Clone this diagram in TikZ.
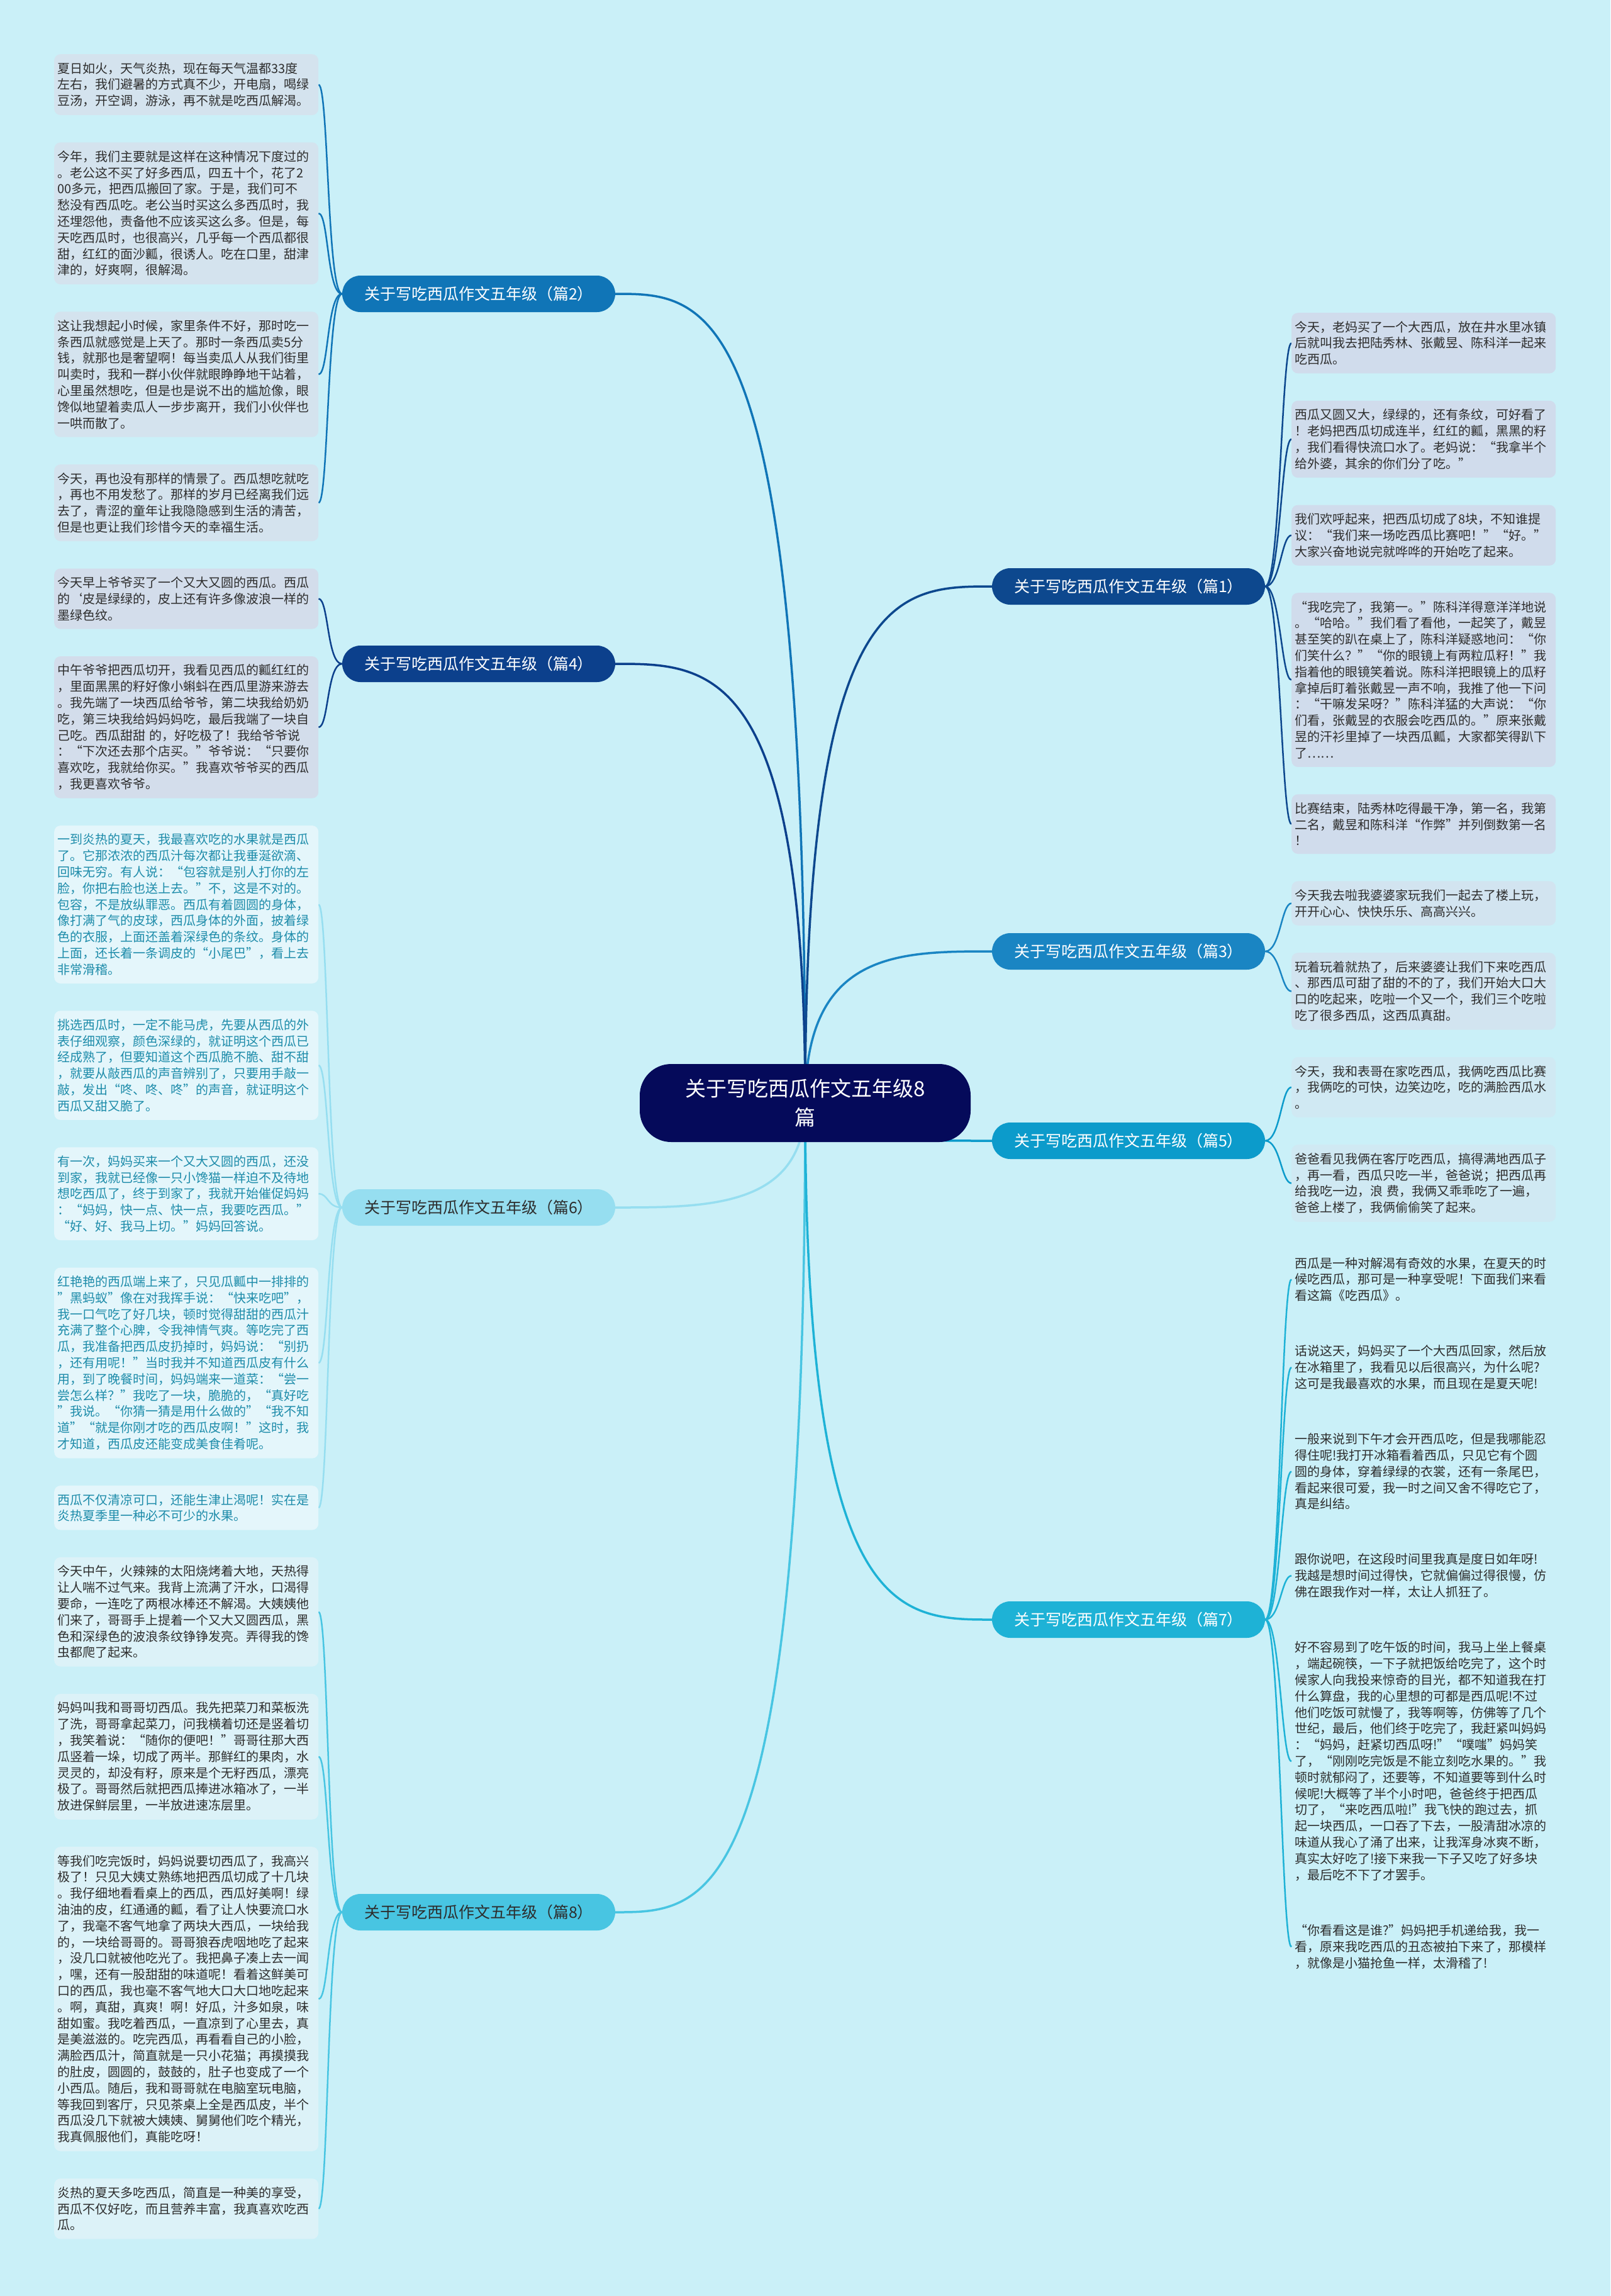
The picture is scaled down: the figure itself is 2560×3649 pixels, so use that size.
\documentclass[tikz,border=0pt]{standalone}
\usepackage{fontspec}
\setmainfont{Noto Sans CJK SC}
\usetikzlibrary{calc, positioning, backgrounds}

\definecolor{bgcol}{RGB}{202,240,248}
\definecolor{rootcol}{RGB}{5,10,90}
\definecolor{c1}{RGB}{13,72,142}
\definecolor{c2}{RGB}{16,117,183}
\definecolor{c3}{RGB}{26,133,195}
\definecolor{c4}{RGB}{12,64,140}
\definecolor{c5}{RGB}{12,155,203}
\definecolor{c6}{RGB}{150,222,240}
\definecolor{c7}{RGB}{30,178,214}
\definecolor{c8}{RGB}{72,197,226}
\definecolor{f1}{RGB}{208,220,236}
\definecolor{f2}{RGB}{212,227,238}
\definecolor{f3}{RGB}{210,228,240}
\definecolor{f4}{RGB}{211,221,235}
\definecolor{f5}{RGB}{208,233,243}
\definecolor{f6}{RGB}{228,246,251}
\definecolor{f8}{RGB}{220,242,248}
\definecolor{txtcol}{RGB}{45,45,45}
\definecolor{tealtxt}{RGB}{30,140,170}

\tikzset{
  rootnode/.style={fill=rootcol, text=white, rounded corners=50pt, minimum width=526pt,
    minimum height=124pt, align=center, font=\fontsize{33}{46}\selectfont},
  branch/.style={rounded corners=29pt, minimum width=434pt, minimum height=58pt,
    inner sep=0pt, text=white, font=\fontsize{25}{30}\selectfont},
  leaf/.style={rounded corners=10pt, text width=410pt, inner xsep=5pt, inner ysep=13pt,
    align=left, text=txtcol, font=\fontsize{20}{25.8}\selectfont},
  mainline/.style={line width=3.5pt},
  subline/.style={line width=2.5pt}
}

\begin{document}
\begin{tikzpicture}[x=1pt, y=-1pt]
% central topic
\node[rootnode] (root) at (1280,1753) {关于写吃西瓜作文五年级8\\篇};

% branches
\node[branch, fill=c2] (b2) at (761,467) {关于写吃西瓜作文五年级（篇2）};
\node[branch, fill=c4] (b4) at (761,1055) {关于写吃西瓜作文五年级（篇4）};
\node[branch, fill=c6, text=txtcol] (b6) at (761,1919) {关于写吃西瓜作文五年级（篇6）};
\node[branch, fill=c8, text=txtcol] (b8) at (761,3039) {关于写吃西瓜作文五年级（篇8）};
\node[branch, fill=c1] (b1) at (1794,932) {关于写吃西瓜作文五年级（篇1）};
\node[branch, fill=c3] (b3) at (1794,1512) {关于写吃西瓜作文五年级（篇3）};
\node[branch, fill=c5] (b5) at (1794,1813) {关于写吃西瓜作文五年级（篇5）};
\node[branch, fill=c7] (b7) at (1794,2574) {关于写吃西瓜作文五年级（篇7）};

% left column
\node[leaf, fill=f2, anchor=north west] (L2a) at (86,86) {夏日如火，天气炎热，现在每天气温都33度\\左右，我们避暑的方式真不少，开电扇，喝绿\\豆汤，开空调，游泳，再不就是吃西瓜解渴。};
\node[leaf, fill=f2, below=43pt of L2a] (L2b) {今年，我们主要就是这样在这种情况下度过的\\。老公这不买了好多西瓜，四五十个，花了2\\00多元，把西瓜搬回了家。于是，我们可不\\愁没有西瓜吃。老公当时买这么多西瓜时，我\\还埋怨他，责备他不应该买这么多。但是，每\\天吃西瓜时，也很高兴，几乎每一个西瓜都很\\甜，红红的面沙瓤，很诱人。吃在口里，甜津\\津的，好爽啊，很解渴。};
\node[leaf, fill=f2, below=43pt of L2b] (L2c) {这让我想起小时候，家里条件不好，那时吃一\\条西瓜就感觉是上天了。那时一条西瓜卖5分\\钱，就那也是奢望啊！每当卖瓜人从我们街里\\叫卖时，我和一群小伙伴就眼睁睁地干站着，\\心里虽然想吃，但是也是说不出的尴尬像，眼\\馋似地望着卖瓜人一步步离开，我们小伙伴也\\一哄而散了。};
\node[leaf, fill=f2, below=43pt of L2c] (L2d) {今天，再也没有那样的情景了。西瓜想吃就吃\\，再也不用发愁了。那样的岁月已经离我们远\\去了，青涩的童年让我隐隐感到生活的清苦，\\但是也更让我们珍惜今天的幸福生活。};
\node[leaf, fill=f4, below=43pt of L2d] (L4a) {今天早上爷爷买了一个又大又圆的西瓜。西瓜\\的\symbol{96}皮是绿绿的，皮上还有许多像波浪一样的\\墨绿色纹。};
\node[leaf, fill=f4, below=43pt of L4a] (L4b) {中午爷爷把西瓜切开，我看见西瓜的瓤红红的\\，里面黑黑的籽好像小蝌蚪在西瓜里游来游去\\。我先端了一块西瓜给爷爷，第二块我给奶奶\\吃，第三块我给妈妈妈吃，最后我端了一块自\\己吃。西瓜甜甜 的，好吃极了！我给爷爷说\\：“下次还去那个店买。”爷爷说：“只要你\\喜欢吃，我就给你买。”我喜欢爷爷买的西瓜\\，我更喜欢爷爷。};
\node[leaf, fill=f6, text=tealtxt, below=43pt of L4b] (L6a) {一到炎热的夏天，我最喜欢吃的水果就是西瓜\\了。它那浓浓的西瓜汁每次都让我垂涎欲滴、\\回味无穷。有人说：“包容就是别人打你的左\\脸，你把右脸也送上去。”不，这是不对的。\\包容，不是放纵罪恶。西瓜有着圆圆的身体，\\像打满了气的皮球，西瓜身体的外面，披着绿\\色的衣服，上面还盖着深绿色的条纹。身体的\\上面，还长着一条调皮的“小尾巴”，看上去\\非常滑稽。};
\node[leaf, fill=f6, text=tealtxt, below=43pt of L6a] (L6b) {挑选西瓜时，一定不能马虎，先要从西瓜的外\\表仔细观察，颜色深绿的，就证明这个西瓜已\\经成熟了，但要知道这个西瓜脆不脆、甜不甜\\，就要从敲西瓜的声音辨别了，只要用手敲一\\敲，发出“咚、咚、咚”的声音，就证明这个\\西瓜又甜又脆了。};
\node[leaf, fill=f6, text=tealtxt, below=43pt of L6b] (L6c) {有一次，妈妈买来一个又大又圆的西瓜，还没\\到家，我就已经像一只小馋猫一样迫不及待地\\想吃西瓜了，终于到家了，我就开始催促妈妈\\：“妈妈，快一点、快一点，我要吃西瓜。”\\“好、好、我马上切。”妈妈回答说。};
\node[leaf, fill=f6, text=tealtxt, below=43pt of L6c] (L6d) {红艳艳的西瓜端上来了，只见瓜瓤中一排排的\\”黑蚂蚁”像在对我挥手说：“快来吃吧”，\\我一口气吃了好几块，顿时觉得甜甜的西瓜汁\\充满了整个心脾，令我神情气爽。等吃完了西\\瓜，我准备把西瓜皮扔掉时，妈妈说：“别扔\\，还有用呢！”当时我并不知道西瓜皮有什么\\用，到了晚餐时间，妈妈端来一道菜：“尝一\\尝怎么样？”我吃了一块，脆脆的，“真好吃\\”我说。“你猜一猜是用什么做的”“我不知\\道”“就是你刚才吃的西瓜皮啊！”这时，我\\才知道，西瓜皮还能变成美食佳肴呢。};
\node[leaf, fill=f6, text=tealtxt, below=43pt of L6d] (L6e) {西瓜不仅清凉可口，还能生津止渴呢！实在是\\炎热夏季里一种必不可少的水果。};
\node[leaf, fill=f8, below=43pt of L6e] (L8a) {今天中午，火辣辣的太阳烧烤着大地，天热得\\让人喘不过气来。我背上流满了汗水，口渴得\\要命，一连吃了两根冰棒还不解渴。大姨姨他\\们来了，哥哥手上提着一个又大又圆西瓜，黑\\色和深绿色的波浪条纹铮铮发亮。弄得我的馋\\虫都爬了起来。};
\node[leaf, fill=f8, below=43pt of L8a] (L8b) {妈妈叫我和哥哥切西瓜。我先把菜刀和菜板洗\\了洗，哥哥拿起菜刀，问我横着切还是竖着切\\，我笑着说：“随你的便吧！”哥哥往那大西\\瓜竖着一垛，切成了两半。那鲜红的果肉，水\\灵灵的，却没有籽，原来是个无籽西瓜，漂亮\\极了。哥哥然后就把西瓜捧进冰箱冰了，一半\\放进保鲜层里，一半放进速冻层里。};
\node[leaf, fill=f8, below=43pt of L8b] (L8c) {等我们吃完饭时，妈妈说要切西瓜了，我高兴\\极了！只见大姨丈熟练地把西瓜切成了十几块\\。我仔细地看看桌上的西瓜，西瓜好美啊！绿\\油油的皮，红通通的瓤，看了让人快要流口水\\了，我毫不客气地拿了两块大西瓜，一块给我\\的，一块给哥哥的。哥哥狼吞虎咽地吃了起来\\，没几口就被他吃光了。我把鼻子凑上去一闻\\，嘿，还有一股甜甜的味道呢！看着这鲜美可\\口的西瓜，我也毫不客气地大口大口地吃起来\\。啊，真甜，真爽！啊！好瓜，汁多如泉，味\\甜如蜜。我吃着西瓜，一直凉到了心里去，真\\是美滋滋的。吃完西瓜，再看看自己的小脸，\\满脸西瓜汁，简直就是一只小花猫；再摸摸我\\的肚皮，圆圆的，鼓鼓的，肚子也变成了一个\\小西瓜。随后，我和哥哥就在电脑室玩电脑，\\等我回到客厅，只见茶桌上全是西瓜皮，半个\\西瓜没几下就被大姨姨、舅舅他们吃个精光，\\我真佩服他们，真能吃呀！};
\node[leaf, fill=f8, below=43pt of L8c] (L8d) {炎热的夏天多吃西瓜，简直是一种美的享受，\\西瓜不仅好吃，而且营养丰富，我真喜欢吃西\\瓜。};

% right column
\node[leaf, fill=f1, anchor=north west] (R1a) at (2053,497) {今天，老妈买了一个大西瓜，放在井水里冰镇\\后就叫我去把陆秀林、张戴昱、陈科洋一起来\\吃西瓜。};
\node[leaf, fill=f1, below=43pt of R1a] (R1b) {西瓜又圆又大，绿绿的，还有条纹，可好看了\\！老妈把西瓜切成连半，红红的瓤，黑黑的籽\\，我们看得快流口水了。老妈说：“我拿半个\\给外婆，其余的你们分了吃。”};
\node[leaf, fill=f1, below=43pt of R1b] (R1c) {我们欢呼起来，把西瓜切成了8块，不知谁提\\议：“我们来一场吃西瓜比赛吧！”“好。”\\大家兴奋地说完就哗哗的开始吃了起来。};
\node[leaf, fill=f1, below=43pt of R1c] (R1d) {“我吃完了，我第一。”陈科洋得意洋洋地说\\。“哈哈。”我们看了看他，一起笑了，戴昱\\甚至笑的趴在桌上了，陈科洋疑惑地问：“你\\们笑什么？”“你的眼镜上有两粒瓜籽！”我\\指着他的眼镜笑着说。陈科洋把眼镜上的瓜籽\\拿掉后盯着张戴昱一声不响，我推了他一下问\\：“干嘛发呆呀？”陈科洋猛的大声说：“你\\们看，张戴昱的衣服会吃西瓜的。”原来张戴\\昱的汗衫里掉了一块西瓜瓤，大家都笑得趴下\\了……};
\node[leaf, fill=f1, below=43pt of R1d] (R1e) {比赛结束，陆秀林吃得最干净，第一名，我第\\二名，戴昱和陈科洋“作弊”并列倒数第一名\\！};
\node[leaf, fill=f3, below=43pt of R1e] (R3a) {今天我去啦我婆婆家玩我们一起去了楼上玩，\\开开心心、快快乐乐、高高兴兴。};
\node[leaf, fill=f3, below=43pt of R3a] (R3b) {玩着玩着就热了，后来婆婆让我们下来吃西瓜\\、那西瓜可甜了甜的不的了，我们开始大口大\\口的吃起来，吃啦一个又一个，我们三个吃啦\\吃了很多西瓜，这西瓜真甜。};
\node[leaf, fill=f5, below=43pt of R3b] (R5a) {今天，我和表哥在家吃西瓜，我俩吃西瓜比赛\\，我俩吃的可快，边笑边吃，吃的满脸西瓜水\\。};
\node[leaf, fill=f5, below=43pt of R5a] (R5b) {爸爸看见我俩在客厅吃西瓜，搞得满地西瓜子\\，再一看，西瓜只吃一半，爸爸说；把西瓜再\\给我吃一边，浪 费，我俩又乖乖吃了一遍，\\爸爸上楼了，我俩偷偷笑了起来。};
\node[leaf, below=43pt of R5b] (R7a) {西瓜是一种对解渴有奇效的水果，在夏天的时\\候吃西瓜，那可是一种享受呢！下面我们来看\\看这篇《吃西瓜》。};
\node[leaf, below=43pt of R7a] (R7b) {话说这天，妈妈买了一个大西瓜回家，然后放\\在冰箱里了，我看见以后很高兴，为什么呢?\\这可是我最喜欢的水果，而且现在是夏天呢!};
\node[leaf, below=43pt of R7b] (R7c) {一般来说到下午才会开西瓜吃，但是我哪能忍\\得住呢!我打开冰箱看着西瓜，只见它有个圆\\圆的身体，穿着绿绿的衣裳，还有一条尾巴，\\看起来很可爱，我一时之间又舍不得吃它了，\\真是纠结。};
\node[leaf, below=43pt of R7c] (R7d) {跟你说吧，在这段时间里我真是度日如年呀!\\我越是想时间过得快，它就偏偏过得很慢，仿\\佛在跟我作对一样，太让人抓狂了。};
\node[leaf, below=43pt of R7d] (R7e) {好不容易到了吃午饭的时间，我马上坐上餐桌\\，端起碗筷，一下子就把饭给吃完了，这个时\\候家人向我投来惊奇的目光，都不知道我在打\\什么算盘，我的心里想的可都是西瓜呢!不过\\他们吃饭可就慢了，我等啊等，仿佛等了几个\\世纪，最后，他们终于吃完了，我赶紧叫妈妈\\：“妈妈，赶紧切西瓜呀!”“噗嗤”妈妈笑\\了，“刚刚吃完饭是不能立刻吃水果的。”我\\顿时就郁闷了，还要等，不知道要等到什么时\\候呢!大概等了半个小时吧，爸爸终于把西瓜\\切了，“来吃西瓜啦!”我飞快的跑过去，抓\\起一块西瓜，一口吞了下去，一股清甜冰凉的\\味道从我心了涌了出来，让我浑身冰爽不断，\\真实太好吃了!接下来我一下子又吃了好多块\\，最后吃不下了才罢手。};
\node[leaf, below=43pt of R7e] (R7f) {“你看看这是谁?”妈妈把手机递给我，我一\\看，原来我吃西瓜的丑态被拍下来了，那模样\\，就像是小猫抢鱼一样，太滑稽了!};

\begin{pgfonlayer}{background}
\fill[bgcol] (0,0) rectangle (2560,3649);
% topic to branches
\draw[mainline, c2] (root.center) .. controls (root.center |- b2.east) and +(150,0) .. (b2.east);
\draw[mainline, c4] (root.center) .. controls (root.center |- b4.east) and +(150,0) .. (b4.east);
\draw[mainline, c6] (root.center) .. controls (root.center |- b6.east) and +(150,0) .. (b6.east);
\draw[mainline, c8] (root.center) .. controls (root.center |- b8.east) and +(150,0) .. (b8.east);
\draw[mainline, c1] (root.center) .. controls (root.center |- b1.west) and +(-150,0) .. (b1.west);
\draw[mainline, c3] (root.center) .. controls (root.center |- b3.west) and +(-150,0) .. (b3.west);
\draw[mainline, c5] (root.center) .. controls (root.center |- b5.west) and +(-150,0) .. (b5.west);
\draw[mainline, c7] (root.center) .. controls (root.center |- b7.west) and +(-150,0) .. (b7.west);
% branches to leaves
\foreach \l in {L2a,L2b,L2c,L2d}
  \draw[subline, c2] (b2.west) .. controls +(-24,0) and +(16,0) .. (\l.east);
\foreach \l in {L4a,L4b}
  \draw[subline, c4] (b4.west) .. controls +(-24,0) and +(16,0) .. (\l.east);
\foreach \l in {L6a,L6b,L6c,L6d,L6e}
  \draw[subline, c6] (b6.west) .. controls +(-24,0) and +(16,0) .. (\l.east);
\foreach \l in {L8a,L8b,L8c,L8d}
  \draw[subline, c8] (b8.west) .. controls +(-24,0) and +(16,0) .. (\l.east);
\foreach \r in {R1a,R1b,R1c,R1d,R1e}
  \draw[subline, c1] (b1.east) .. controls +(24,0) and +(-16,0) .. (\r.west);
\foreach \r in {R3a,R3b}
  \draw[subline, c3] (b3.east) .. controls +(24,0) and +(-16,0) .. (\r.west);
\foreach \r in {R5a,R5b}
  \draw[subline, c5] (b5.east) .. controls +(24,0) and +(-16,0) .. (\r.west);
\foreach \r in {R7a,R7b,R7c,R7d,R7e,R7f}
  \draw[subline, c7] (b7.east) .. controls +(24,0) and +(-16,0) .. (\r.west);
\end{pgfonlayer}
\end{tikzpicture}
\end{document}
